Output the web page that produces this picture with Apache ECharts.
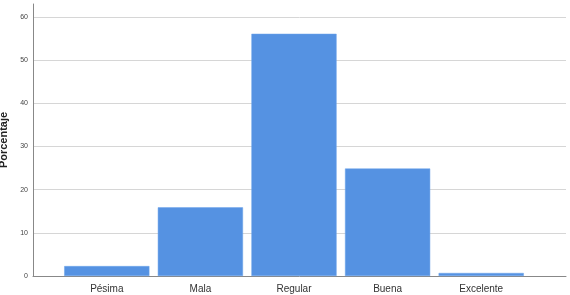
<!DOCTYPE html>
<html>
<head>
<meta charset="utf-8">
<script src="https://cdn.jsdelivr.net/npm/echarts@6/dist/echarts.min.js"></script>
<style>html,body{margin:0;padding:0;background:#fff}#c{width:570px;height:295px}</style>
</head>
<body>
<div id="c"></div>
<script>
const categories = ["Pésima", "Mala", "Regular", "Buena", "Excelente"];
const porcentaje = [2.3, 15.9, 56.1, 24.9, 0.7];
const yTicks = [0, 10, 20, 30, 40, 50, 60];
const yTitle = "Porcentaje";

const chart = echarts.init(document.getElementById('c'), null, {renderer: 'canvas'});
const yMax = 63;
chart.setOption({
  animation: false,
  grid: [
    {left: 33, right: 4, top: 4, bottom: 19, containLabel: false, outerBoundsMode: 'none'},
    {left: 60, right: 42, top: 4, bottom: 19, containLabel: false, outerBoundsMode: 'none'}
  ],
  xAxis: [
    {gridIndex: 0, type: 'value', min: 0, max: 1, axisLine: {show: true, onZero: false, lineStyle: {color: '#888', width: 1}},
     axisTick: {show: false}, axisLabel: {show: false}, splitLine: {show: false}},
    {gridIndex: 1, type: 'category', data: categories, axisLine: {show: false}, axisTick: {show: false},
     axisLabel: {color: '#333', fontFamily: 'Liberation Sans, Arial, sans-serif', fontSize: 10, margin: 8}}
  ],
  yAxis: [
    {gridIndex: 0, type: 'value', min: yTicks[0], max: yMax, interval: 10,
     name: yTitle, nameLocation: 'middle', nameGap: 20, nameRotate: 90,
     nameTextStyle: {fontFamily: 'Liberation Sans, Arial, sans-serif', fontSize: 11, fontWeight: 'bold', color: '#222'},
     axisLine: {show: true, lineStyle: {color: '#888'}}, axisTick: {show: false},
     axisLabel: {showMaxLabel: false, color: '#444', fontSize: 7, fontFamily: 'Liberation Sans, Arial, sans-serif', margin: 5},
     splitLine: {show: true, showMaxLine: false, showMinLine: false, lineStyle: {color: '#d6d6d6', width: 1}}},
    {gridIndex: 1, type: 'value', min: yTicks[0], max: yMax, show: false, splitLine: {show: false}}
  ],
  series: [{
    type: 'bar', xAxisIndex: 1, yAxisIndex: 1, data: porcentaje,
    barCategoryGap: '9%',
    itemStyle: {color: '#5592E2', borderColor: '#6BA2EA', borderWidth: 0.5}
  }]
});
</script>
</body>
</html>
